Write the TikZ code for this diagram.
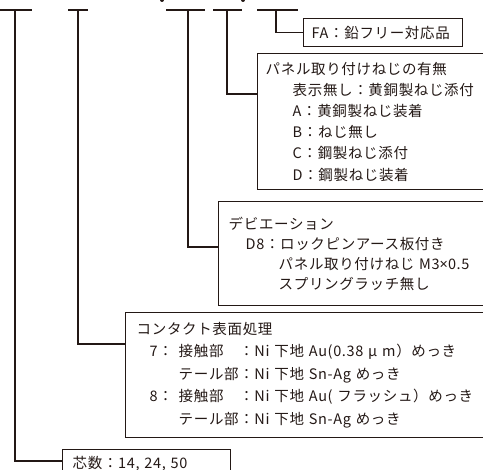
\documentclass[tikz,border=0pt]{standalone}
\usepackage{fontspec}
\newfontfamily\jpfont[LetterSpace=4.5]{Noto Sans CJK JP}
\newfontfamily\latnfont{Noto Sans}
\definecolor{ink}{HTML}{231815}

\begin{document}
\begin{tikzpicture}[x=1pt,y=-1pt,color=ink,line width=1.4pt]
  \useasboundingbox (0,0) rectangle (483,470);
  \clip (0,0) rectangle (483,470);

  % marks of the part number
  \fill (162,0) circle (2);
  \fill (243,0) circle (2);
  \draw (0,10) -- (32,10);
  \draw (68,10) -- (88,10);
  \draw (166,10) -- (205,10);
  \draw (213,10) -- (242,10);
  \draw (257,10) -- (298,10);

  \coordinate (t1) at (15,10);
  \coordinate (t2) at (78,10);
  \coordinate (t3) at (188,10);
  \coordinate (t4) at (227,10);
  \coordinate (t5) at (276,10);

  \begin{scope}[every node/.style={draw,anchor=north west,align=left,inner ysep=0pt,
      text width=400pt,font=\jpfont\fontsize{14.5}{21}\selectfont}]
    \node[inner xsep=8pt,text width=143pt,minimum height=28pt] (lead) at (303,18)
      {FA：鉛フリー対応品};
    \node[inner xsep=8pt,minimum height=136pt,font=\jpfont\fontsize{14.5}{21.2}\selectfont] (screw) at (257,53)
      {パネル取り付けねじの有無\\
       \hspace*{27pt}表示無し：黄銅製ねじ添付\\
       \hspace*{27pt}A：黄銅製ねじ装着\\
       \hspace*{27pt}B：ねじ無し\\
       \hspace*{27pt}C：鋼製ねじ添付\\
       \hspace*{27pt}D：鋼製ねじ装着};
    \node[inner xsep=10pt,minimum height=104pt,font=\jpfont\fontsize{14.5}{20}\selectfont] (devi) at (218,201)
      {デビエーション\\
       \hspace*{17pt}D8：ロックピンアース板付き\\
       \hspace*{50pt}パネル取り付けねじ M3{\latnfont ×}0.5\\
       \hspace*{50pt}スプリングラッチ無し};
    \node[inner xsep=11pt,minimum height=125pt,font=\jpfont\fontsize{14.5}{22.5}\selectfont] (plating) at (125,312)
      {コンタクト表面処理\\
       \hspace*{13pt}\makebox[29pt][l]{7：}接触部　：Ni 下地 Au(0.38 μ m）めっき\\
       \hspace*{42pt}テール部：Ni 下地 Sn-Ag めっき\\
       \hspace*{13pt}\makebox[29pt][l]{8：}接触部　：Ni 下地 Au( フラッシュ）めっき\\
       \hspace*{42pt}テール部：Ni 下地 Sn-Ag めっき};
    \node[inner xsep=10pt,text width=148pt,minimum height=28pt] (cores) at (62,449)
      {芯数：14, 24, 50};
  \end{scope}

  \draw (t5) |- (lead.west);
  \draw (t4) |- ([yshift=-41pt]screw.north west);
  \draw (t3) |- ([yshift=-46pt]devi.north west);
  \draw (t2) |- ([yshift=-32pt]plating.north west);
  \draw (t1) |- ([yshift=-12pt]cores.north west);

\end{tikzpicture}
\end{document}
